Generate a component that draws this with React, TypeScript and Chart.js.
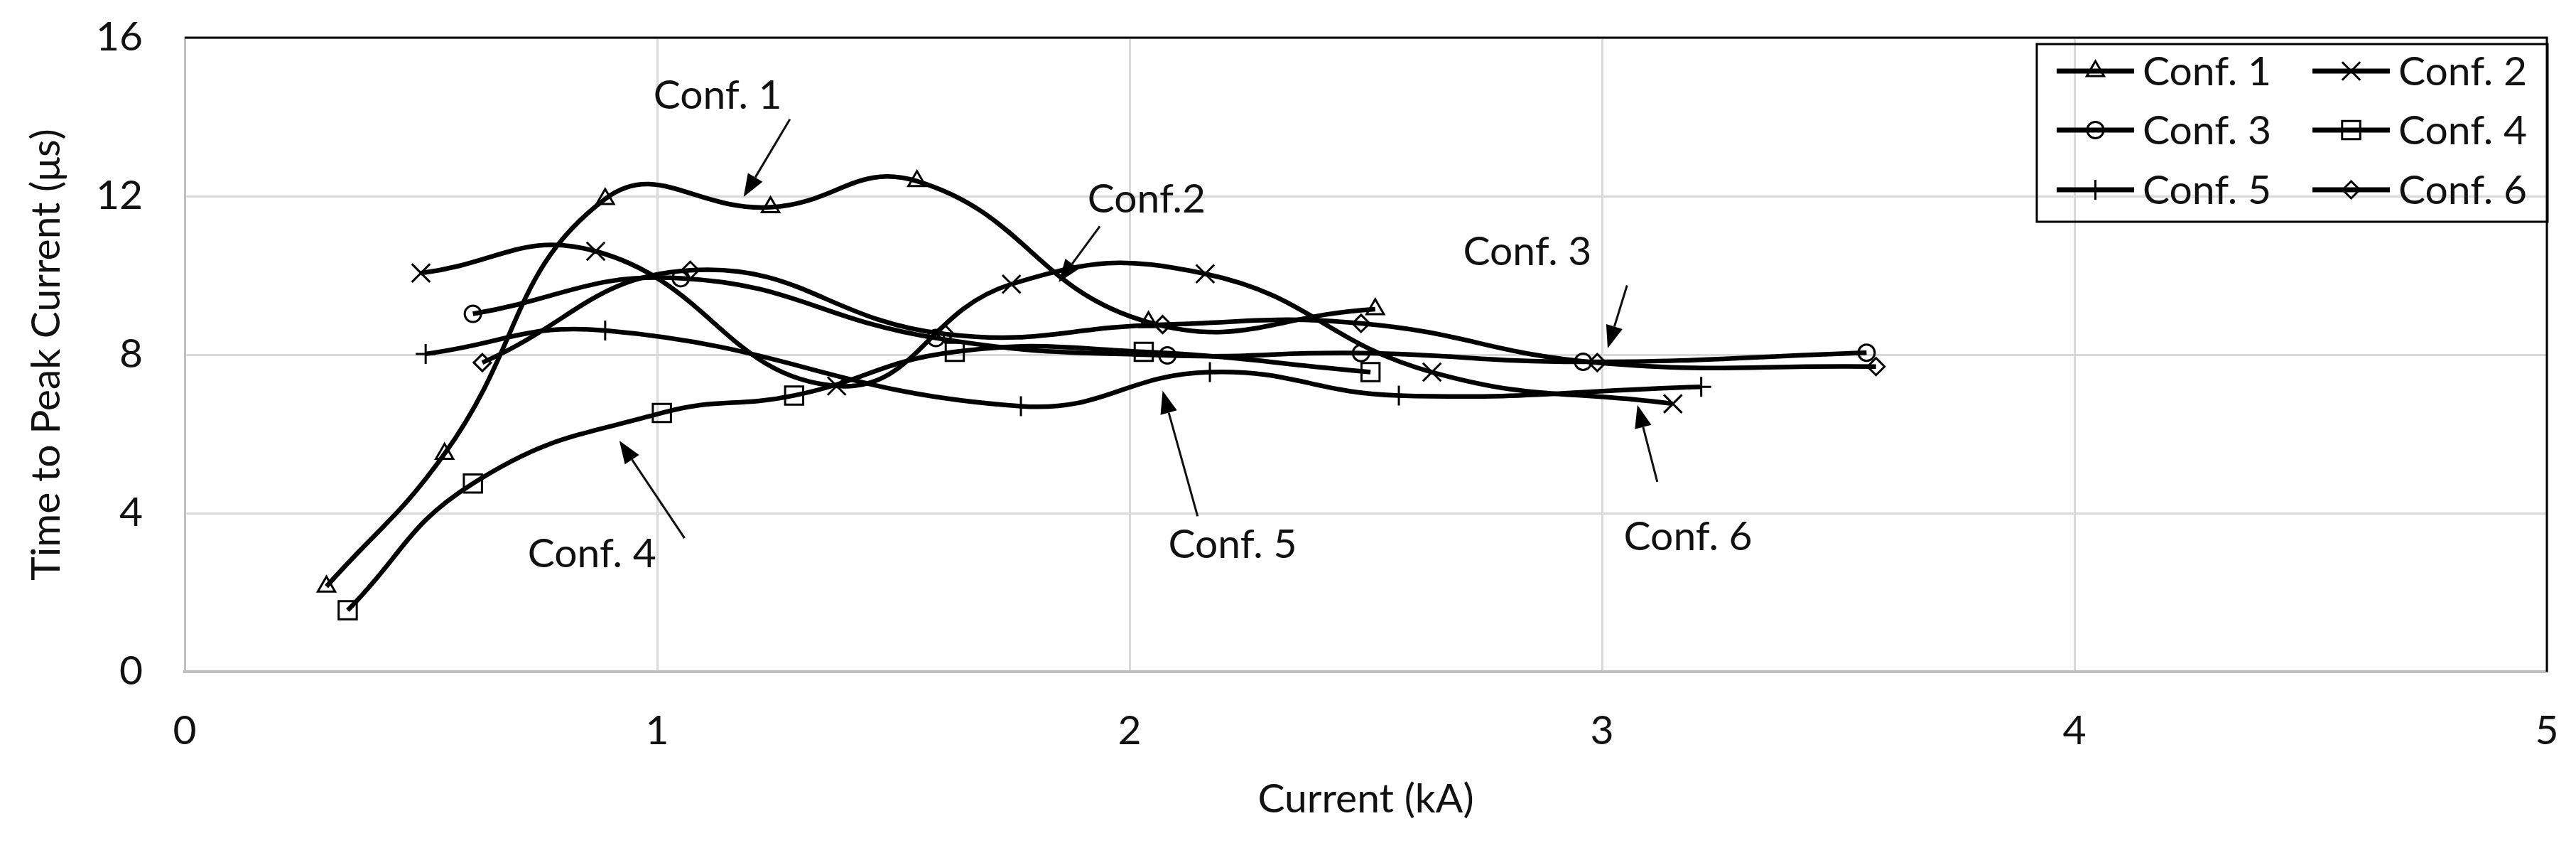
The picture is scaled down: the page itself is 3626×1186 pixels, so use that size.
import React, { useEffect, useRef } from 'react';
import { Chart, registerables } from 'chart.js';

Chart.register(...registerables);

// ---- data ----
const seriesNames = ['Conf. 1', 'Conf. 2', 'Conf. 3', 'Conf. 4', 'Conf. 5', 'Conf. 6'];

const conf1X = [0.30, 0.55, 0.89, 1.24, 1.55, 2.04, 2.52];
const conf1Y = [2.15, 5.50, 11.93, 11.72, 12.38, 8.82, 9.15];

const conf2X = [0.50, 0.87, 1.38, 1.75, 2.16, 2.64, 3.15];
const conf2Y = [10.06, 10.61, 7.21, 9.78, 10.04, 7.56, 6.76];

const conf3X = [0.61, 1.05, 1.59, 2.08, 2.49, 2.96, 3.56];
const conf3Y = [9.03, 9.93, 8.42, 7.98, 8.04, 7.82, 8.05];

const conf4X = [0.345, 0.61, 1.01, 1.29, 1.63, 2.03, 2.51];
const conf4Y = [1.55, 4.75, 6.53, 6.97, 8.07, 8.07, 7.56];

const conf5X = [0.51, 0.89, 1.77, 2.17, 2.57, 3.21];
const conf5Y = [8.02, 8.61, 6.70, 7.56, 6.97, 7.19];

const conf6X = [0.63, 1.07, 1.61, 2.07, 2.49, 2.99, 3.58];
const conf6Y = [7.80, 10.13, 8.52, 8.76, 8.79, 7.80, 7.70];

const xTicks = [0, 1, 2, 3, 4, 5];
const yTicks = [0, 4, 8, 12, 16];

// annotation call-outs (data coordinates)
const noteLabels = ['Conf. 1', 'Conf.2', 'Conf. 3', 'Conf. 4', 'Conf. 5', 'Conf. 6'];
const noteX = [1.128, 2.036, 2.842, 0.862, 2.218, 3.182];
const noteY = [14.58, 11.95, 10.62, 3.0, 3.23, 3.43];
const arrowFromX = [1.281, 1.937, 3.053, 1.058, 2.144, 3.117];
const arrowFromY = [13.94, 11.24, 9.75, 3.37, 3.92, 4.79];
const arrowToX = [1.183, 1.85, 3.012, 0.92, 2.07, 3.075];
const arrowToY = [11.98, 9.83, 8.16, 5.83, 7.09, 6.73];

const xsList = [conf1X, conf2X, conf3X, conf4X, conf5X, conf6X];
const ysList = [conf1Y, conf2Y, conf3Y, conf4Y, conf5Y, conf6Y];

const markerStyles = ['triangle', 'crossRot', 'circle', 'rect', 'cross', 'rectRot'];
const markerRadius = [14, 18, 11.5, 18, 14, 12];

const FONT = 'Lato, "Open Sans", "DejaVu Sans", sans-serif';
const FONT_SIZE = 57;
const TEXT = '#111111';

function drawMarker(ctx: CanvasRenderingContext2D, style: string, x: number, y: number, r: number) {
  ctx.beginPath();
  const q = Math.PI / 4;
  switch (style) {
    case 'triangle': {
      let rad = 0;
      ctx.moveTo(x + Math.sin(rad) * r, y - Math.cos(rad) * r);
      rad += (2 * Math.PI) / 3;
      ctx.lineTo(x + Math.sin(rad) * r, y - Math.cos(rad) * r);
      rad += (2 * Math.PI) / 3;
      ctx.lineTo(x + Math.sin(rad) * r, y - Math.cos(rad) * r);
      ctx.closePath();
      break;
    }
    case 'circle':
      ctx.arc(x, y, r, 0, Math.PI * 2);
      ctx.closePath();
      break;
    case 'rect': {
      const s = Math.SQRT1_2 * r;
      ctx.rect(x - s, y - s, 2 * s, 2 * s);
      break;
    }
    case 'rectRot':
      ctx.moveTo(x, y - r);
      ctx.lineTo(x + r, y);
      ctx.lineTo(x, y + r);
      ctx.lineTo(x - r, y);
      ctx.closePath();
      break;
    case 'cross':
      ctx.moveTo(x, y - r);
      ctx.lineTo(x, y + r);
      ctx.moveTo(x - r, y);
      ctx.lineTo(x + r, y);
      break;
    case 'crossRot': {
      const o = Math.cos(q) * r;
      ctx.moveTo(x - o, y - o);
      ctx.lineTo(x + o, y + o);
      ctx.moveTo(x - o, y + o);
      ctx.lineTo(x + o, y - o);
      break;
    }
  }
  ctx.stroke();
}

const framePlugin = {
  id: 'frameAndLegend',
  afterDraw(chart: any) {
    const { ctx, chartArea } = chart;
    ctx.save();
    // black top & right frame of the plot area
    ctx.strokeStyle = '#000';
    ctx.lineWidth = 3;
    ctx.beginPath();
    ctx.moveTo(chartArea.left, chartArea.top);
    ctx.lineTo(chartArea.right, chartArea.top);
    ctx.lineTo(chartArea.right, chartArea.bottom);
    ctx.stroke();

    // legend box (transparent, framed)
    const boxRight = chartArea.right + 1;
    const boxLeft = boxRight - 719;
    const boxTop = chartArea.top + 9;
    const boxBottom = boxTop + 250;
    ctx.lineWidth = 3;
    ctx.strokeRect(boxLeft, boxTop, boxRight - boxLeft, boxBottom - boxTop);

    const colLine = [boxLeft + 28, boxLeft + 388];
    const lineLen = 109;
    const rowY = [boxTop + 38, boxTop + 121, boxTop + 205];
    ctx.font = `${FONT_SIZE}px ${FONT}`;
    ctx.textAlign = 'left';
    ctx.textBaseline = 'middle';
    seriesNames.forEach((name, i) => {
      const col = i % 2;
      const row = Math.floor(i / 2);
      const x0 = colLine[col];
      const y = rowY[row];
      ctx.strokeStyle = '#000';
      ctx.lineWidth = 7;
      ctx.beginPath();
      ctx.moveTo(x0, y);
      ctx.lineTo(x0 + lineLen, y);
      ctx.stroke();
      ctx.lineWidth = 3;
      drawMarker(ctx, markerStyles[i], x0 + lineLen / 2, y, markerRadius[i]);
      ctx.fillStyle = TEXT;
      ctx.fillText(name, x0 + lineLen + 12, y + 2);
    });
    ctx.restore();
  },
};

const notesPlugin = {
  id: 'callouts',
  afterDatasetsDraw(chart: any) {
    const { ctx } = chart;
    const xs = chart.scales.x;
    const ys = chart.scales.y;
    ctx.save();
    ctx.font = `${FONT_SIZE}px ${FONT}`;
    ctx.textAlign = 'center';
    ctx.textBaseline = 'middle';
    ctx.fillStyle = TEXT;
    noteLabels.forEach((label, i) => {
      ctx.fillText(label, xs.getPixelForValue(noteX[i]), ys.getPixelForValue(noteY[i]) + 2);
      const x1 = xs.getPixelForValue(arrowFromX[i]);
      const y1 = ys.getPixelForValue(arrowFromY[i]);
      const x2 = xs.getPixelForValue(arrowToX[i]);
      const y2 = ys.getPixelForValue(arrowToY[i]);
      const ang = Math.atan2(y2 - y1, x2 - x1);
      const headLen = 32;
      const headHalf = 12;
      const bx = x2 - Math.cos(ang) * headLen;
      const by = y2 - Math.sin(ang) * headLen;
      ctx.strokeStyle = '#111';
      ctx.lineWidth = 3;
      ctx.beginPath();
      ctx.moveTo(x1, y1);
      ctx.lineTo(bx, by);
      ctx.stroke();
      ctx.fillStyle = '#000';
      ctx.beginPath();
      ctx.moveTo(x2, y2);
      ctx.lineTo(bx + Math.sin(ang) * headHalf, by - Math.cos(ang) * headHalf);
      ctx.lineTo(bx - Math.sin(ang) * headHalf, by + Math.cos(ang) * headHalf);
      ctx.closePath();
      ctx.fill();
      ctx.fillStyle = TEXT;
    });
    ctx.restore();
  },
};

export default function App() {
  const ref = useRef<HTMLCanvasElement | null>(null);

  useEffect(() => {
    document.body.style.margin = '0';
    const canvas = ref.current;
    if (!canvas) return;

    const datasets = seriesNames.map((name, i) => ({
      label: name,
      data: xsList[i].map((x, j) => ({ x, y: ysList[i][j] })),
      borderColor: '#000',
      borderWidth: 6.5,
      tension: 0.45,
      fill: false,
      pointStyle: markerStyles[i],
      pointRadius: markerRadius[i],
      pointBorderColor: '#000',
      pointBorderWidth: 3,
      pointBackgroundColor: 'rgba(255,255,255,0)',
    }));

    const chart = new Chart(canvas, {
      type: 'line',
      data: { datasets },
      options: {
        animation: false,
        responsive: false,
        devicePixelRatio: 1,
        layout: { padding: { left: 0, top: 53, right: 41, bottom: 0 } },
        plugins: {
          legend: { display: false },
          tooltip: { enabled: false },
        },
        scales: {
          x: {
            type: 'linear',
            min: xTicks[0],
            max: xTicks[xTicks.length - 1],
            afterBuildTicks: (scale: any) => {
              scale.ticks = xTicks.map((v) => ({ value: v }));
            },
            afterFit: (scale: any) => {
              scale.height = 241;
              scale.paddingLeft = 0;
              scale.paddingRight = 0;
            },
            grid: { color: '#d9d9d9', lineWidth: 3, drawTicks: false },
            border: { color: '#bfbfbf', width: 4 },
            ticks: {
              padding: 49,
              color: TEXT,
              font: { family: FONT, size: FONT_SIZE },
            },
            title: {
              display: true,
              text: 'Current (kA)',
              color: TEXT,
              font: { family: FONT, size: FONT_SIZE },
              padding: { top: 0, bottom: 27 },
            },
          },
          y: {
            type: 'linear',
            min: yTicks[0],
            max: yTicks[yTicks.length - 1],
            afterBuildTicks: (scale: any) => {
              scale.ticks = yTicks.map((v) => ({ value: v }));
            },
            afterFit: (scale: any) => {
              scale.width = 260;
              scale.paddingTop = 0;
              scale.paddingBottom = 0;
            },
            grid: { color: '#d9d9d9', lineWidth: 3, drawTicks: false },
            border: { color: '#bfbfbf', width: 3 },
            ticks: {
              padding: 59,
              color: TEXT,
              font: { family: FONT, size: FONT_SIZE },
            },
            title: {
              display: true,
              text: 'Time to Peak Current (μs)',
              color: TEXT,
              font: { family: FONT, size: FONT_SIZE },
              padding: { top: 31, bottom: 0 },
            },
          },
        },
      },
      plugins: [notesPlugin, framePlugin],
    });

    return () => chart.destroy();
  }, []);

  return (
    <canvas
      ref={ref}
      width={3626}
      height={1186}
      style={{ display: 'block', width: '3626px', height: '1186px' }}
    />
  );
}
